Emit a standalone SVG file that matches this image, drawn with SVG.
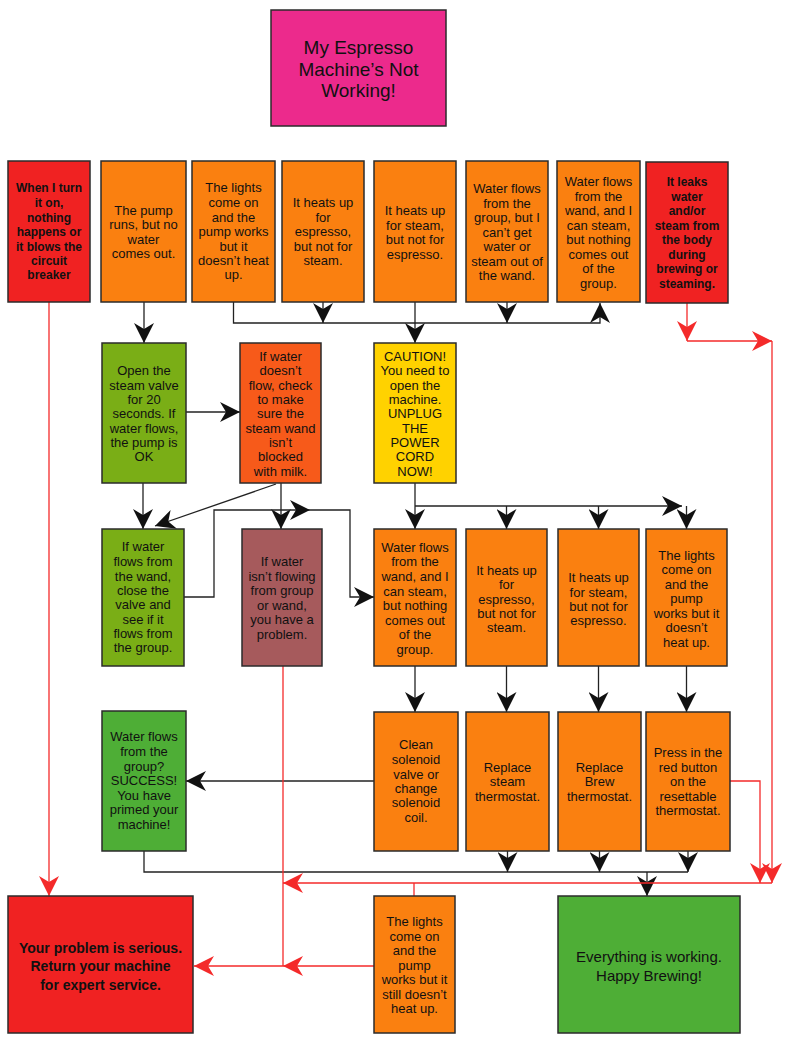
<svg xmlns="http://www.w3.org/2000/svg" width="800" height="1051" viewBox="0 0 800 1051">
<style>
.bx{stroke:#2b2b2b;stroke-width:1.5}
.or{fill:#FA8010}.rd{fill:#F02222}.mg{fill:#EC2A8C}.ye{fill:#FFD200}.ro{fill:#F75A1A}.og{fill:#7AAE16}.gr{fill:#4EAE36}.br{fill:#A65A5C}
.t{font-family:"Liberation Sans",Arial,sans-serif;font-size:13px;fill:#111;text-anchor:middle}
.b{font-weight:bold;font-size:12px}
.c{fill:none;stroke:#222;stroke-width:1.3}
.r{fill:none;stroke:#F42A2A;stroke-width:1.3}
</style>
<defs>
<marker id="ah" viewBox="0 0 20 20" refX="20" refY="10" markerWidth="20" markerHeight="20" markerUnits="userSpaceOnUse" orient="auto"><path d="M0,0 L20,10 L0,20 L6,10 z" fill="#111"/></marker>
<marker id="ar" viewBox="0 0 20 20" refX="20" refY="10" markerWidth="20" markerHeight="20" markerUnits="userSpaceOnUse" orient="auto"><path d="M0,0 L20,10 L0,20 L6,10 z" fill="#F42A2A"/></marker>
</defs>
<rect width="800" height="1051" fill="#fff"/>
<g id="connectors">
<path class="c" d="M144,302 V343" marker-end="url(#ah)"/>
<path class="c" d="M233.5,302 V323 H600 V303" marker-end="url(#ah)"/>
<path class="c" d="M323,302 V323" marker-end="url(#ah)"/>
<path class="c" d="M507,302 V323" marker-end="url(#ah)"/>
<path class="c" d="M415,302 V343" marker-end="url(#ah)"/>
<path class="c" d="M186,412 H240" marker-end="url(#ah)"/>
<path class="c" d="M143,483 V529" marker-end="url(#ah)"/>
<path class="c" d="M276,484 L155,526" marker-end="url(#ah)"/>
<path class="c" d="M281,483 V529" marker-end="url(#ah)"/>
<path class="c" d="M184,597 H214 V510 H310" marker-end="url(#ah)"/>
<path class="c" d="M310,510 H350 V597 H374" marker-end="url(#ah)"/>
<path class="c" d="M415,483 V529" marker-end="url(#ah)"/>
<path class="c" d="M415,506 H682" marker-end="url(#ah)"/>
<path class="c" d="M506.5,506 V529" marker-end="url(#ah)"/>
<path class="c" d="M598.5,506 V529" marker-end="url(#ah)"/>
<path class="c" d="M686.5,506 V529" marker-end="url(#ah)"/>
<path class="c" d="M415,666 V712" marker-end="url(#ah)"/>
<path class="c" d="M506.5,666 V712" marker-end="url(#ah)"/>
<path class="c" d="M598.5,666 V712" marker-end="url(#ah)"/>
<path class="c" d="M686.5,666 V712" marker-end="url(#ah)"/>
<path class="c" d="M374,781 H186" marker-end="url(#ah)"/>
<path class="c" d="M144,851 V872 H688"/>
<path class="c" d="M507.5,851 V872" marker-end="url(#ah)"/>
<path class="c" d="M599.5,851 V872" marker-end="url(#ah)"/>
<path class="c" d="M688,851 V872" marker-end="url(#ah)"/>
<path class="c" d="M647,872 V896" marker-end="url(#ah)"/>
<path class="r" d="M49,302 V896" marker-end="url(#ar)"/>
<path class="r" d="M687,303 V341" marker-end="url(#ar)"/>
<path class="r" d="M687,341 H772" marker-end="url(#ar)"/>
<path class="r" d="M772,341 V883" marker-end="url(#ar)"/>
<path class="r" d="M730,781 H760 V883" marker-end="url(#ar)"/>
<path class="r" d="M772,883 H283" marker-end="url(#ar)"/>
<path class="r" d="M283,666 V966"/>
<path class="r" d="M374,966 H283" marker-end="url(#ar)"/>
<path class="r" d="M283,966 H194" marker-end="url(#ar)"/>
<path class="r" d="M414,896 V883"/>
</g>
<g id="title"><rect class="bx mg" x="271" y="10" width="175" height="116"/>
<text class="t" style="font-size:19px"><tspan x="358.5" y="54">My Espresso</tspan><tspan x="358.5" y="75.5">Machine’s Not</tspan><tspan x="358.5" y="97">Working!</tspan></text></g>
<g id="n1"><rect class="bx rd" x="8" y="161" width="82" height="141"/>
<text class="t b"><tspan x="49" y="192">When I turn</tspan><tspan x="49" y="207">it on,</tspan><tspan x="49" y="221.5">nothing</tspan><tspan x="49" y="236">happens or</tspan><tspan x="49" y="250.5">it blows the</tspan><tspan x="49" y="265">circuit</tspan><tspan x="49" y="279">breaker</tspan></text></g>
<g id="n2"><rect class="bx or" x="101" y="161" width="85" height="141"/>
<text class="t"><tspan x="143.5" y="214.5">The pump</tspan><tspan x="143.5" y="229">runs, but no</tspan><tspan x="143.5" y="243.5">water</tspan><tspan x="143.5" y="258">comes out.</tspan></text></g>
<g id="n3"><rect class="bx or" x="192" y="161" width="83" height="141"/>
<text class="t"><tspan x="233.5" y="192">The lights</tspan><tspan x="233.5" y="207">come on</tspan><tspan x="233.5" y="221.5">and the</tspan><tspan x="233.5" y="236">pump works</tspan><tspan x="233.5" y="250.5">but it</tspan><tspan x="233.5" y="265">doesn’t heat</tspan><tspan x="233.5" y="279">up.</tspan></text></g>
<g id="n4"><rect class="bx or" x="282" y="161" width="82" height="141"/>
<text class="t"><tspan x="323" y="207">It heats up</tspan><tspan x="323" y="221.5">for</tspan><tspan x="323" y="236">espresso,</tspan><tspan x="323" y="250.5">but not for</tspan><tspan x="323" y="265">steam.</tspan></text></g>
<g id="n5"><rect class="bx or" x="374" y="161" width="82" height="141"/>
<text class="t"><tspan x="415" y="215">It heats up</tspan><tspan x="415" y="229.5">for steam,</tspan><tspan x="415" y="244">but not for</tspan><tspan x="415" y="258.5">espresso.</tspan></text></g>
<g id="n6"><rect class="bx or" x="466" y="161" width="82" height="141"/>
<text class="t"><tspan x="507" y="193">Water flows</tspan><tspan x="507" y="207.5">from the</tspan><tspan x="507" y="222">group, but I</tspan><tspan x="507" y="236.5">can’t get</tspan><tspan x="507" y="251">water or</tspan><tspan x="507" y="265.5">steam out of</tspan><tspan x="507" y="280">the wand.</tspan></text></g>
<g id="n7"><rect class="bx or" x="557" y="161" width="83" height="141"/>
<text class="t"><tspan x="598.5" y="186">Water flows</tspan><tspan x="598.5" y="200.5">from the</tspan><tspan x="598.5" y="215">wand, and I</tspan><tspan x="598.5" y="229.5">can steam,</tspan><tspan x="598.5" y="244">but nothing</tspan><tspan x="598.5" y="258.5">comes out</tspan><tspan x="598.5" y="273">of the</tspan><tspan x="598.5" y="287.5">group.</tspan></text></g>
<g id="n8"><rect class="bx rd" x="646" y="162" width="82" height="141"/>
<text class="t b"><tspan x="687" y="186">It leaks</tspan><tspan x="687" y="200.5">water</tspan><tspan x="687" y="215">and/or</tspan><tspan x="687" y="229.5">steam from</tspan><tspan x="687" y="244">the body</tspan><tspan x="687" y="258.5">during</tspan><tspan x="687" y="273">brewing or</tspan><tspan x="687" y="287.5">steaming.</tspan></text></g>
<g id="n9"><rect class="bx og" x="102" y="343" width="84" height="140"/>
<text class="t"><tspan x="144" y="375">Open the</tspan><tspan x="144" y="389.5">steam valve</tspan><tspan x="144" y="404">for 20</tspan><tspan x="144" y="418">seconds. If</tspan><tspan x="144" y="433">water flows,</tspan><tspan x="144" y="447">the pump is</tspan><tspan x="144" y="461">OK</tspan></text></g>
<g id="n10"><rect class="bx ro" x="240" y="343" width="81" height="140"/>
<text class="t"><tspan x="280.5" y="360.5">If water</tspan><tspan x="280.5" y="375">doesn’t</tspan><tspan x="280.5" y="389.5">flow, check</tspan><tspan x="280.5" y="404">to make</tspan><tspan x="280.5" y="418">sure the</tspan><tspan x="280.5" y="433">steam wand</tspan><tspan x="280.5" y="447">isn’t</tspan><tspan x="280.5" y="461">blocked</tspan><tspan x="280.5" y="476">with milk.</tspan></text></g>
<g id="n11"><rect class="bx ye" x="374" y="343" width="82" height="140"/>
<text class="t"><tspan x="415" y="360.5">CAUTION!</tspan><tspan x="415" y="375">You need to</tspan><tspan x="415" y="389.5">open the</tspan><tspan x="415" y="404">machine.</tspan><tspan x="415" y="418">UNPLUG</tspan><tspan x="415" y="433">THE</tspan><tspan x="415" y="447">POWER</tspan><tspan x="415" y="461">CORD</tspan><tspan x="415" y="476">NOW!</tspan></text></g>
<g id="n12"><rect class="bx og" x="102" y="529" width="82" height="137"/>
<text class="t"><tspan x="143" y="551">If water</tspan><tspan x="143" y="566">flows from</tspan><tspan x="143" y="580.5">the wand,</tspan><tspan x="143" y="594.5">close the</tspan><tspan x="143" y="609">valve and</tspan><tspan x="143" y="623.5">see if it</tspan><tspan x="143" y="638">flows from</tspan><tspan x="143" y="652">the group.</tspan></text></g>
<g id="n13"><rect class="bx br" x="242" y="529" width="80" height="137"/>
<text class="t"><tspan x="282" y="565.5">If water</tspan><tspan x="282" y="580.5">isn’t flowing</tspan><tspan x="282" y="595">from group</tspan><tspan x="282" y="609.5">or wand,</tspan><tspan x="282" y="624">you have a</tspan><tspan x="282" y="638.5">problem.</tspan></text></g>
<g id="n14"><rect class="bx or" x="374" y="529" width="82" height="137"/>
<text class="t"><tspan x="415" y="552">Water flows</tspan><tspan x="415" y="566">from the</tspan><tspan x="415" y="581">wand, and I</tspan><tspan x="415" y="595.5">can steam,</tspan><tspan x="415" y="610">but nothing</tspan><tspan x="415" y="624.5">comes out</tspan><tspan x="415" y="639">of the</tspan><tspan x="415" y="653.5">group.</tspan></text></g>
<g id="n15"><rect class="bx or" x="466" y="529" width="81" height="137"/>
<text class="t"><tspan x="506.5" y="574.5">It heats up</tspan><tspan x="506.5" y="589">for</tspan><tspan x="506.5" y="603.5">espresso,</tspan><tspan x="506.5" y="617.5">but not for</tspan><tspan x="506.5" y="631.5">steam.</tspan></text></g>
<g id="n16"><rect class="bx or" x="558" y="529" width="81" height="137"/>
<text class="t"><tspan x="598.5" y="582">It heats up</tspan><tspan x="598.5" y="596.5">for steam,</tspan><tspan x="598.5" y="610.5">but not for</tspan><tspan x="598.5" y="625">espresso.</tspan></text></g>
<g id="n17"><rect class="bx or" x="646" y="529" width="81" height="137"/>
<text class="t"><tspan x="686.5" y="559.5">The lights</tspan><tspan x="686.5" y="574">come on</tspan><tspan x="686.5" y="588.5">and the</tspan><tspan x="686.5" y="603">pump</tspan><tspan x="686.5" y="617.5">works but it</tspan><tspan x="686.5" y="632">doesn’t</tspan><tspan x="686.5" y="646.5">heat up.</tspan></text></g>
<g id="n18"><rect class="bx gr" x="102" y="711" width="84" height="140"/>
<text class="t"><tspan x="144" y="741">Water flows</tspan><tspan x="144" y="756">from the</tspan><tspan x="144" y="770.5">group?</tspan><tspan x="144" y="785">SUCCESS!</tspan><tspan x="144" y="799.5">You have</tspan><tspan x="144" y="814">primed your</tspan><tspan x="144" y="828.5">machine!</tspan></text></g>
<g id="n19"><rect class="bx or" x="374" y="712" width="84" height="139"/>
<text class="t"><tspan x="416" y="749">Clean</tspan><tspan x="416" y="764">solenoid</tspan><tspan x="416" y="778.5">valve or</tspan><tspan x="416" y="793">change</tspan><tspan x="416" y="807">solenoid</tspan><tspan x="416" y="822">coil.</tspan></text></g>
<g id="n20"><rect class="bx or" x="466" y="712" width="83" height="139"/>
<text class="t"><tspan x="507.5" y="772">Replace</tspan><tspan x="507.5" y="786">steam</tspan><tspan x="507.5" y="800.5">thermostat.</tspan></text></g>
<g id="n21"><rect class="bx or" x="558" y="712" width="83" height="139"/>
<text class="t"><tspan x="599.5" y="772">Replace</tspan><tspan x="599.5" y="786">Brew</tspan><tspan x="599.5" y="800.5">thermostat.</tspan></text></g>
<g id="n22"><rect class="bx or" x="646" y="712" width="84" height="139"/>
<text class="t"><tspan x="688" y="757">Press in the</tspan><tspan x="688" y="771.5">red button</tspan><tspan x="688" y="786">on the</tspan><tspan x="688" y="800.5">resettable</tspan><tspan x="688" y="815">thermostat.</tspan></text></g>
<g id="n23"><rect class="bx rd" x="8" y="896" width="185" height="137"/>
<text class="t" style="font-weight:bold;font-size:14px"><tspan x="100.5" y="952.5">Your problem is serious.</tspan><tspan x="100.5" y="971">Return your machine</tspan><tspan x="100.5" y="989.5">for expert service.</tspan></text></g>
<g id="n24"><rect class="bx or" x="374" y="896" width="81" height="137"/>
<text class="t"><tspan x="414.5" y="926">The lights</tspan><tspan x="414.5" y="940.5">come on</tspan><tspan x="414.5" y="955">and the</tspan><tspan x="414.5" y="969.5">pump</tspan><tspan x="414.5" y="984">works but it</tspan><tspan x="414.5" y="998.5">still doesn’t</tspan><tspan x="414.5" y="1013">heat up.</tspan></text></g>
<g id="n25"><rect class="bx gr" x="558" y="896" width="182" height="137"/>
<text class="t" style="font-size:15px"><tspan x="649" y="962">Everything is working.</tspan><tspan x="649" y="980.5">Happy Brewing!</tspan></text></g>
</svg>
